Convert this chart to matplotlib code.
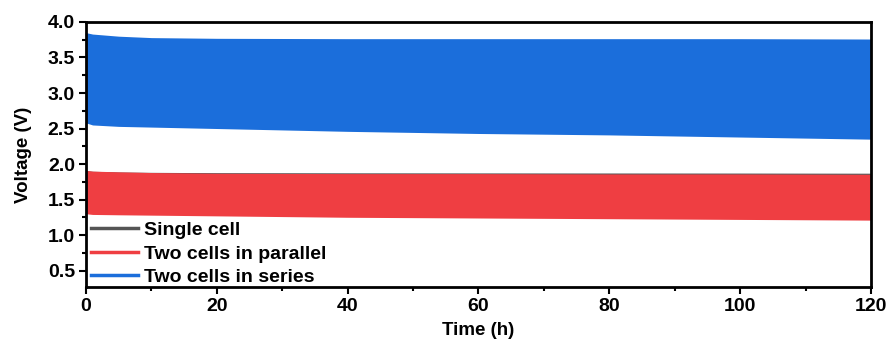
import numpy as np
import matplotlib.pyplot as plt
from matplotlib.lines import Line2D
from matplotlib.ticker import MultipleLocator

plt.rcParams['font.family'] = ['Liberation Sans', 'DejaVu Sans']
plt.rcParams['font.weight'] = 'bold'

# charge/discharge voltage envelopes (upper / lower) vs time
t = [0, 1, 5, 10, 20, 40, 60, 80, 100, 120]
series_hi = [3.85, 3.83, 3.80, 3.78, 3.77, 3.765, 3.765, 3.765, 3.765, 3.76]
series_lo = [2.58, 2.55, 2.53, 2.52, 2.50, 2.46, 2.43, 2.41, 2.38, 2.35]
parallel_hi = [1.91, 1.90, 1.89, 1.88, 1.87, 1.865, 1.865, 1.86, 1.86, 1.855]
parallel_lo = [1.30, 1.29, 1.285, 1.28, 1.27, 1.25, 1.24, 1.23, 1.22, 1.21]
single_hi = [1.90, 1.89, 1.88, 1.875, 1.87, 1.868, 1.867, 1.866, 1.865, 1.863]
single_lo = [1.35, 1.34, 1.33, 1.33, 1.32, 1.31, 1.30, 1.29, 1.28, 1.27]

labels = ['Single cell', 'Two cells in parallel', 'Two cells in series']
colors = ['#555555', '#ef3e42', '#1b6edb']

fig = plt.figure(figsize=(8.93, 3.49), dpi=100)
ax = fig.add_axes([0.0963, 0.178, 0.879, 0.759])

ax.fill_between(t, single_lo, single_hi, color=colors[0], lw=0.8)
ax.fill_between(t, parallel_lo, parallel_hi, color=colors[1], lw=0)
ax.fill_between(t, series_lo, series_hi, color=colors[2], lw=0)

handles = [Line2D([], [], color=c, lw=2.5) for c in colors]
ax.legend(handles, labels, loc='lower left', frameon=False, fontsize=14,
          handlelength=2.4, handletextpad=0.3, labelspacing=0.3,
          borderpad=0.2, borderaxespad=0, bbox_to_anchor=(0.002, -0.012))

ax.set_xlim(0, 120)
ax.set_ylim(0.27, 4.0)
ax.xaxis.set_major_locator(MultipleLocator(20))
ax.xaxis.set_minor_locator(MultipleLocator(10))
ax.yaxis.set_minor_locator(MultipleLocator(0.25))
ax.set_yticks(np.arange(0.5, 4.01, 0.5))

ax.tick_params(which='major', direction='out', length=5, width=1.5, labelsize=14, pad=3)
ax.tick_params(which='minor', direction='out', length=3, width=1.5)
for s in ax.spines.values():
    s.set_linewidth(2)

ax.set_xlabel('Time (h)', fontsize=13.5, fontweight='bold', labelpad=5)
ax.set_ylabel('Voltage (V)', fontsize=13.5, fontweight='bold', labelpad=11)

fig.savefig('out.png', dpi=100)
